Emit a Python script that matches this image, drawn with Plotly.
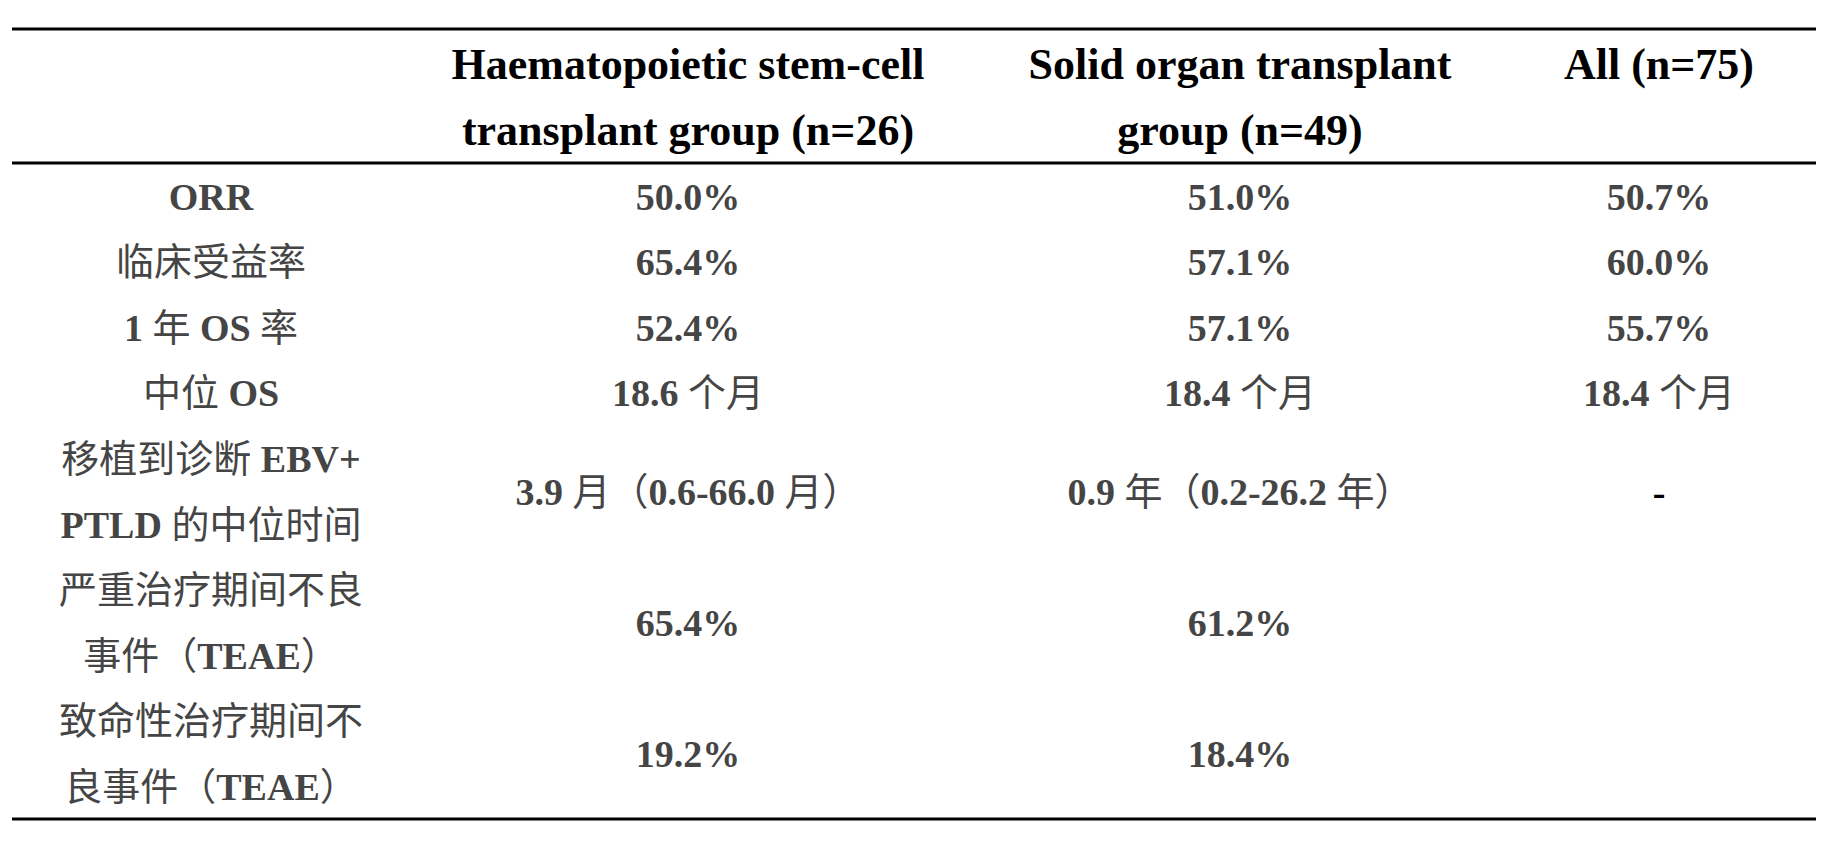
import re
import plotly.graph_objects as go

# table content
header_lines = [
    ["Haematopoietic stem-cell", "transplant group (n=26)"],
    ["Solid organ transplant", "group (n=49)"],
    ["All (n=75)"],
]
row_labels = [
    ["ORR"],
    ["临床受益率"],
    ["1 年 OS 率"],
    ["中位 OS"],
    ["移植到诊断 EBV+", "PTLD 的中位时间"],
    ["严重治疗期间不良", "事件（TEAE）"],
    ["致命性治疗期间不", "良事件（TEAE）"],
]
hsct_values = ["50.0%", "65.4%", "52.4%", "18.6 个月", "3.9 月（0.6-66.0 月）", "65.4%", "19.2%"]
sot_values = ["51.0%", "57.1%", "57.1%", "18.4 个月", "0.9 年（0.2-26.2 年）", "61.2%", "18.4%"]
all_values = ["50.7%", "60.0%", "55.7%", "18.4 个月", "-", "", ""]

# layout (page pixels)
W, H = 1824, 845
OFF = 8  # default body margin of the html page
col_x = [211, 688, 1240, 1659]
header_y0, header_pitch = 67.5, 66
body_y0, body_pitch = 200, 65.6
rules = [29, 163, 819]
rule_x = (12, 1824)

FONT = "Liberation Serif, Noto Sans CJK SC"
GREY = "#454545"


def bold_latin(s):
    # latin runs bold, CJK left regular
    return re.sub(r"([\x20-\x7e]+)", r"<b>\1</b>", s)


fig = go.Figure()

# header
hx, hy, ht = [], [], []
for c, lines in enumerate(header_lines):
    for i, line in enumerate(lines):
        hx.append(col_x[c + 1])
        hy.append(header_y0 + i * header_pitch)
        ht.append(bold_latin(line))
fig.add_trace(go.Scatter(
    x=hx, y=hy, text=ht, mode="text", textposition="middle center",
    textfont=dict(family=FONT, size=44, color="#000000"),
    hoverinfo="skip", showlegend=False,
))

# body
lx, ly, lt = [], [], []
vx, vy, vt, vc = [], [], [], []
line_idx = 0
for r, lines in enumerate(row_labels):
    ys = []
    for line in lines:
        y = body_y0 + line_idx * body_pitch
        ys.append(y)
        lx.append(col_x[0])
        ly.append(y)
        lt.append(bold_latin(line))
        line_idx += 1
    yc = sum(ys) / len(ys)
    for c, vals in enumerate([hsct_values, sot_values, all_values]):
        if vals[r]:
            vx.append(col_x[c + 1])
            vy.append(yc)
            vt.append(bold_latin(vals[r]))
            vc.append("#000000" if vals[r] == "-" else GREY)

fig.add_trace(go.Scatter(
    x=lx, y=ly, text=lt, mode="text", textposition="middle center",
    textfont=dict(family=FONT, size=38, color=GREY),
    hoverinfo="skip", showlegend=False,
))
fig.add_trace(go.Scatter(
    x=vx, y=vy, text=vt, mode="text", textposition="middle center",
    textfont=dict(family=FONT, size=38, color=vc),
    hoverinfo="skip", showlegend=False,
))

# booktabs-style rules
for y in rules:
    fig.add_shape(type="line", xref="x", yref="y",
                  x0=rule_x[0], x1=rule_x[1], y0=y, y1=y,
                  line=dict(color="#000000", width=3))

fig.update_layout(
    width=W, height=H,
    margin=dict(l=0, r=0, t=0, b=0),
    paper_bgcolor="white", plot_bgcolor="white",
    xaxis=dict(range=[OFF, W + OFF], visible=False, fixedrange=True),
    yaxis=dict(range=[H + OFF, OFF], visible=False, fixedrange=True),
)

fig.write_html("out.html")
